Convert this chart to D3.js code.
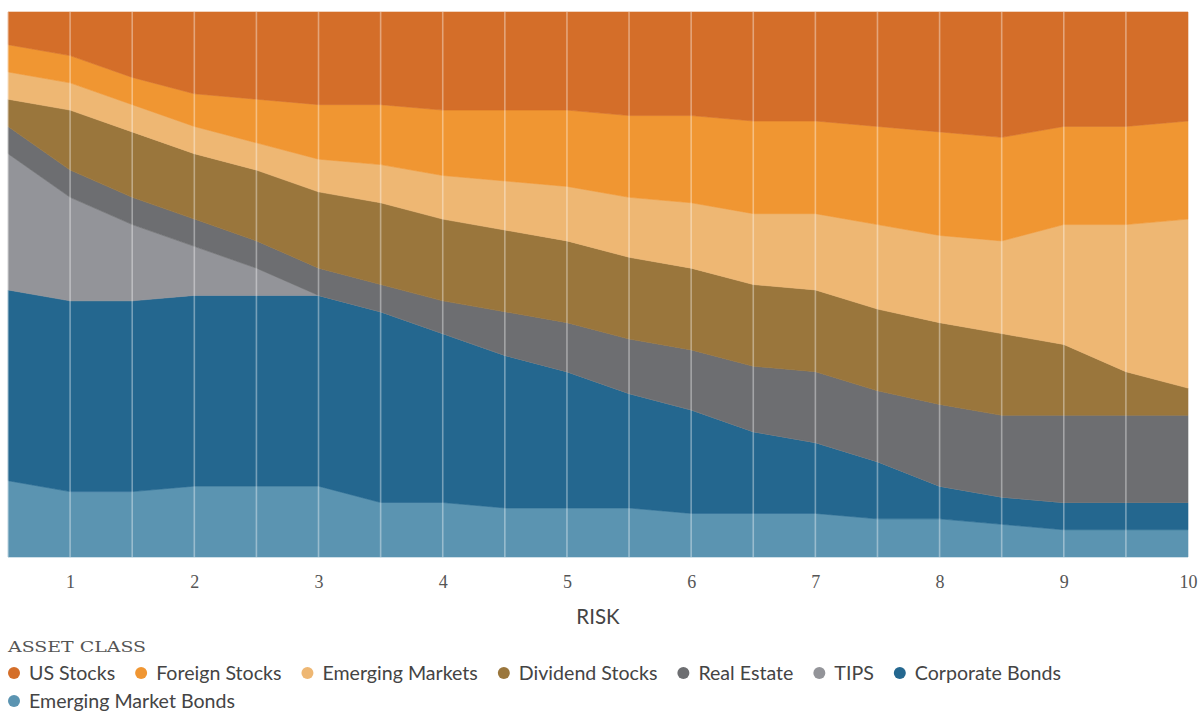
<!DOCTYPE html>
<html>
<head>
<meta charset="utf-8">
<script src="https://cdn.jsdelivr.net/npm/d3@7"></script>
<style>
  html, body { margin: 0; padding: 0; background: #fff; }
  svg { display: block; }
</style>
</head>
<body>
<svg id="chart" width="1202" height="711"></svg>
<script>
// Risk levels (0.5 steps) along the x axis
const risk = [0.5, 1, 1.5, 2, 2.5, 3, 3.5, 4, 4.5, 5, 5.5, 6, 6.5, 7, 7.5, 8, 8.5, 9, 9.5, 10];
const tickLabels = [1, 2, 3, 4, 5, 6, 7, 8, 9, 10];

// Portfolio share (%) of each asset class at every risk level
const usStocks           = [6, 8, 12, 15, 16, 17, 17, 18, 18, 18, 19, 19, 20, 20, 21, 22, 23, 21, 21, 20];
const foreignStocks      = [5, 5, 5, 6, 8, 10, 11, 12, 13, 14, 15, 16, 17, 17, 18, 19, 19, 18, 18, 18];
const emergingMarkets    = [5, 5, 5, 5, 5, 6, 7, 8, 9, 10, 11, 12, 13, 14, 15.5, 16, 17, 22, 27, 31];
const dividendStocks     = [5, 11, 12, 12, 13, 14, 15, 15, 15, 15, 15, 15, 15, 15, 15, 15, 15, 13, 8, 5];
const realEstate         = [5, 5, 5, 5, 5, 5, 5, 6, 8, 9, 10, 11, 12, 13, 13, 15, 15, 16, 16, 16];
const tips               = [25, 19, 14, 9, 5, 0, 0, 0, 0, 0, 0, 0, 0, 0, 0, 0, 0, 0, 0, 0];
const corporateBonds     = [35, 35, 35, 35, 35, 35, 35, 31, 28, 25, 21, 19, 15, 13, 10.5, 6, 5, 5, 5, 5];
const emergingMarketBonds = [14, 12, 12, 13, 13, 13, 10, 10, 9, 9, 9, 8, 8, 8, 7, 7, 6, 5, 5, 5];

// Legend order (top of stack first) and colours
const classes = ["US Stocks", "Foreign Stocks", "Emerging Markets", "Dividend Stocks",
                 "Real Estate", "TIPS", "Corporate Bonds", "Emerging Market Bonds"];
const colors  = ["#d46e29", "#f09632", "#eeb773", "#9a763c", "#6d6e71", "#939499", "#24678f", "#5b94b1"];
const seriesValues = [usStocks, foreignStocks, emergingMarkets, dividendStocks,
                      realEstate, tips, corporateBonds, emergingMarketBonds];

const rows = risk.map((r, i) => {
  const row = { risk: r };
  classes.forEach((c, k) => { row[c] = seriesValues[k][i]; });
  return row;
});

const svg = d3.select("#chart");
const plot = { left: 8, right: 1188, top: 12, bottom: 557 };

const x = d3.scaleLinear().domain([0.5, 10]).range([plot.left, plot.right]);
const y = d3.scaleLinear().domain([0, 100]).range([plot.bottom, plot.top]);
const color = d3.scaleOrdinal().domain(classes).range(colors);

// Bonds at the bottom, US stocks on top
const stackKeys = classes.slice().reverse();
const stacked = d3.stack().keys(stackKeys)(rows);

const area = d3.area()
  .x(d => x(d.data.risk))
  .y0(d => y(d[0]))
  .y1(d => y(d[1]))
  .curve(d3.curveLinear);

svg.append("g")
  .selectAll("path")
  .data(stacked)
  .join("path")
  .attr("d", area)
  .attr("fill", d => color(d.key))
  .attr("stroke", d => color(d.key))
  .attr("stroke-width", 0.6);

// Light vertical guides at every risk step
svg.append("g")
  .selectAll("line")
  .data(risk.slice(0, -1))
  .join("line")
  .attr("x1", d => x(d)).attr("x2", d => x(d))
  .attr("y1", plot.top).attr("y2", plot.bottom)
  .attr("stroke", "#ffffff")
  .attr("stroke-opacity", 0.38)
  .attr("stroke-width", 1.6);

// X axis: tick labels only
const xAxis = d3.axisBottom(x)
  .tickValues(tickLabels)
  .tickSize(0)
  .tickPadding(0)
  .tickFormat(d3.format("d"));

const axisG = svg.append("g")
  .attr("transform", `translate(0,${plot.bottom})`)
  .call(xAxis);
axisG.select(".domain").remove();
axisG.selectAll("text")
  .attr("dy", null)
  .attr("y", 31)
  .attr("fill", "#555")
  .style("font-family", "'Liberation Serif', 'DejaVu Serif', serif")
  .style("font-size", "18px");

svg.append("text")
  .attr("x", (plot.left + plot.right) / 2)
  .attr("y", 624)
  .attr("text-anchor", "middle")
  .attr("fill", "#444")
  .style("font-family", "Lato, 'Open Sans', sans-serif")
  .style("font-size", "20.5px")
  .text("RISK");

// Legend
svg.append("text")
  .attr("x", 8)
  .attr("y", 652)
  .attr("fill", "#555")
  .attr("textLength", 138)
  .attr("lengthAdjust", "spacingAndGlyphs")
  .style("font-family", "'DejaVu Serif', 'Liberation Serif', serif")
  .style("font-size", "15px")
  .text("ASSET CLASS");

const legend = svg.append("g");
let lx = 14, ly = 673;
classes.forEach((c, k) => {
  const g = legend.append("g");
  const t = g.append("text")
    .attr("y", 7)
    .attr("fill", "#444")
    .style("font-family", "Lato, 'Open Sans', sans-serif")
    .style("font-size", "19.6px")
    .text(c);
  const w = t.node().getComputedTextLength();
  if (lx + 15 + w > 1120) { lx = 14; ly += 28; }
  g.attr("transform", `translate(${lx},${ly})`);
  g.insert("circle", "text").attr("r", 6).attr("fill", colors[k]);
  t.attr("x", 15);
  lx += 15 + w + 26;
});
</script>
</body>
</html>
